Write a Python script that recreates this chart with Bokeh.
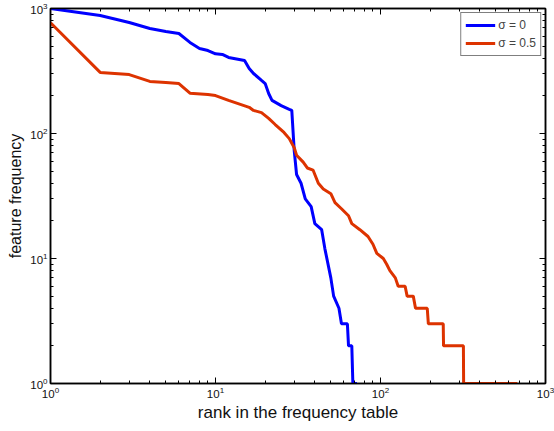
from bokeh.plotting import figure
from bokeh.models import LogAxis, Legend, LegendItem, FixedTicker, Range1d
from bokeh.embed import file_html
from bokeh.resources import INLINE

# sigma = 0
rank_s0 = [1, 2, 3, 4, 5, 6, 7, 8, 9, 10, 11, 12, 15, 16, 17, 19, 20, 21, 22, 25,
           28, 29, 30, 31, 33, 35, 38, 40, 44, 46, 50, 52, 56, 58, 63, 64, 67, 68, 72]
freq_s0 = [1000, 880, 773, 692, 655, 631, 535, 479, 461, 434, 429, 406, 384, 331, 302, 266, 251, 209, 184, 167,
           156, 153, 73, 47, 40, 30, 26, 19, 17, 12, 7, 5, 4, 3, 3, 2, 2, 1, 1]

# sigma = 0.5
rank_s5 = [1, 2, 3, 4, 5, 6, 7, 9, 10, 12, 16, 17, 19, 21, 23, 26, 28, 30, 31, 34,
           36, 39, 42, 45, 50, 53, 58, 64, 67, 75, 84, 90, 95, 104, 109, 114, 123, 128, 141, 145,
           158, 163, 192, 195, 240, 241, 318, 319, 675]
freq_s5 = [770, 308, 296, 261, 256, 251, 210, 205, 201, 184, 162, 153, 147, 132, 118, 102, 91, 77, 67, 59,
           53, 51, 40, 36, 33, 28, 25, 22, 19, 17, 15, 13, 11, 10, 9, 8, 7, 6, 6, 5,
           5, 4, 4, 3, 3, 2, 2, 1, 1]

series_labels = ["σ = 0", "σ = 0.5"]
x_label = "rank in the frequency table"
y_label = "feature frequency"

FONT = "Liberation Sans"
BLUE = "#0000ff"
RED = "#dd3300"

p = figure(width=554, height=431, x_axis_type="log", y_axis_type="log",
           x_range=Range1d(1, 1000), y_range=Range1d(1, 1000),
           output_backend="svg", toolbar_location=None,
           min_border_left=50, min_border_right=9, min_border_top=8, min_border_bottom=48)
p.outline_line_color = "black"
p.outline_line_width = 1.5
p.grid.visible = False
p.background_fill_color = "white"
p.border_fill_color = "white"

major = [1, 10, 100, 1000]
minor = [m * d for d in [1, 10, 100] for m in range(2, 10)]

for ax in [p.xaxis[0], p.yaxis[0]]:
    ax.ticker = FixedTicker(ticks=major, minor_ticks=minor)
    ax.major_tick_in = 6
    ax.major_tick_out = 0
    ax.minor_tick_in = 3
    ax.minor_tick_out = 0
    ax.axis_line_color = "black"
    ax.axis_line_width = 1.5
    ax.major_tick_line_color = "black"
    ax.minor_tick_line_color = "black"
    ax.major_label_text_font = FONT
    ax.major_label_text_font_size = "11.5px"
    ax.major_label_text_color = "#111111"
    ax.axis_label_text_font = FONT
    ax.axis_label_text_font_style = "normal"
    ax.axis_label_text_color = "#111111"
    ax.major_label_standoff = 3
    ax.axis_label_standoff = 3

p.xaxis[0].axis_label_text_font_size = "17px"
p.yaxis[0].axis_label_text_font_size = "16px"
p.xaxis[0].axis_label_standoff = 2
p.xaxis[0].axis_label = x_label
p.yaxis[0].axis_label = y_label

for side in ["above", "right"]:
    ax = LogAxis(ticker=FixedTicker(ticks=major, minor_ticks=minor))
    ax.major_tick_in = 6
    ax.major_tick_out = 0
    ax.minor_tick_in = 3
    ax.minor_tick_out = 0
    ax.axis_line_color = "black"
    ax.axis_line_width = 1.5
    ax.major_label_text_font_size = "0px"
    ax.major_label_text_alpha = 0
    ax.major_label_standoff = 0
    p.add_layout(ax, side)

r0 = p.line(rank_s0, freq_s0, line_color=BLUE, line_width=3)
r1 = p.line(rank_s5, freq_s5, line_color=RED, line_width=3)

legend = Legend(items=[LegendItem(label=series_labels[0], renderers=[r0]),
                       LegendItem(label=series_labels[1], renderers=[r1])],
                location="top_right")
legend.margin = 4
legend.padding = 4
legend.spacing = 2
legend.glyph_width = 30
legend.glyph_height = 16
legend.label_height = 16
legend.label_standoff = 3
legend.label_text_font = FONT
legend.label_text_font_size = "12px"
legend.border_line_color = "black"
legend.border_line_width = 1
legend.background_fill_alpha = 1
p.add_layout(legend)

open("out.html", "w").write(file_html(p, INLINE))
